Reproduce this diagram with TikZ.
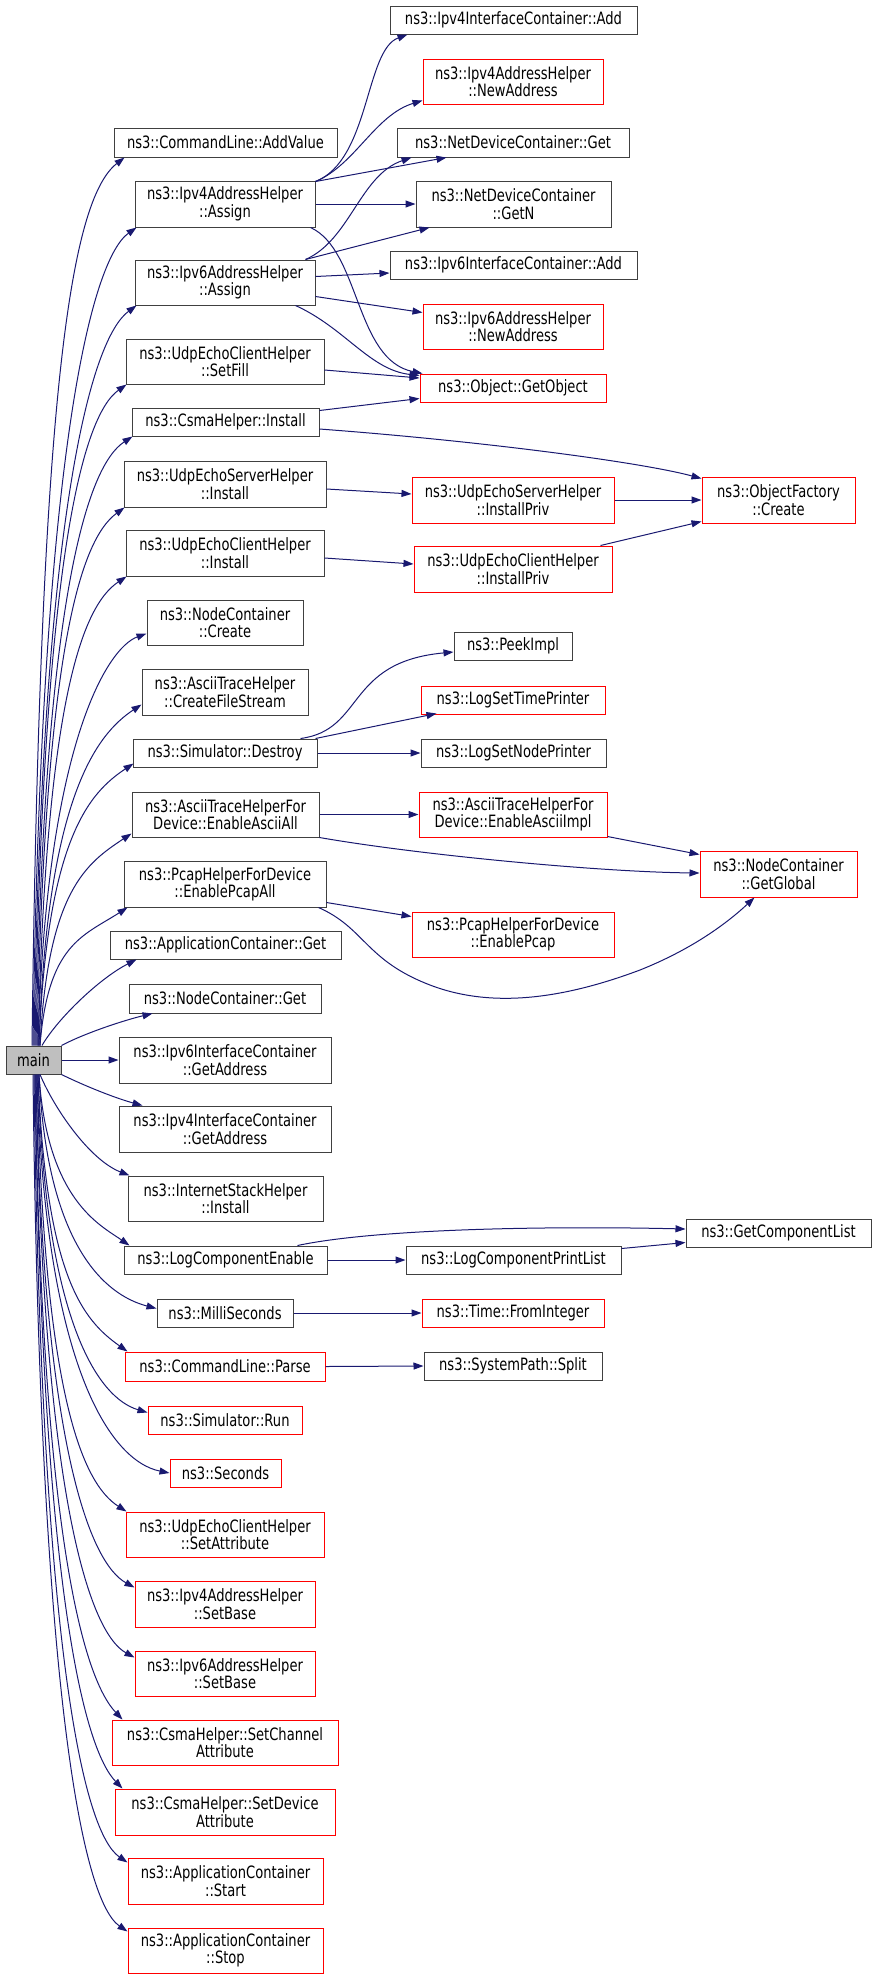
\documentclass[tikz,border=0pt]{standalone}
\usepackage{fontspec}
\setmainfont{DejaVu Sans}[FakeStretch=0.77]
\usetikzlibrary{arrows.meta,calc}
\definecolor{edgec}{HTML}{191970}
\definecolor{bordc}{HTML}{404040}
\definecolor{mainfill}{HTML}{BFBFBF}
\newcommand\mkbox[7]{\node[#6,minimum width=#4pt,minimum height=#5pt] (#1) at (#2,#3) {#7};}
\begin{document}
\begin{tikzpicture}[x=1pt,y=-1pt,
  box/.style={draw=bordc,line width=1pt,inner sep=0pt,align=center,text=black,font=\fontsize{17}{17.4}\selectfont},
  rbox/.style={box,draw=red},
  e/.style={draw=edgec,line width=1pt,-{Triangle[length=10pt,width=7pt]}}]
\useasboundingbox (0,0) rectangle (877,1979);
% column 1
\mkbox{main}{33.5}{1060}{55}{28}{box,fill=mainfill}{main}
\mkbox{av}{225.5}{142.5}{223}{29}{box}{ns3::CommandLine::AddValue}
\mkbox{v4a}{225}{204}{180}{46}{box}{ns3::Ipv4AddressHelper\\::Assign}
\mkbox{v6a}{225}{282.5}{180}{45}{box}{ns3::Ipv6AddressHelper\\::Assign}
\mkbox{setfill}{225}{361.5}{198}{45}{box}{ns3::UdpEchoClientHelper\\::SetFill}
\mkbox{csmainst}{225.5}{422}{187}{28}{box}{ns3::CsmaHelper::Install}
\mkbox{srvinst}{225}{484}{202}{46}{box}{ns3::UdpEchoServerHelper\\::Install}
\mkbox{cliinst}{225}{553}{198}{46}{box}{ns3::UdpEchoClientHelper\\::Install}
\mkbox{nccreate}{225}{622.5}{156}{45}{box}{ns3::NodeContainer\\::Create}
\mkbox{cfs}{225}{692}{166}{46}{box}{ns3::AsciiTraceHelper\\::CreateFileStream}
\mkbox{destroy}{225}{753}{184}{28}{box}{ns3::Simulator::Destroy}
\mkbox{eaa}{225.5}{814.5}{187}{45}{box}{ns3::AsciiTraceHelperFor\\Device::EnableAsciiAll}
\mkbox{epa}{225}{884}{202}{46}{box}{ns3::PcapHelperForDevice\\::EnablePcapAll}
\mkbox{acget}{225.5}{945}{231}{28}{box}{ns3::ApplicationContainer::Get}
\mkbox{ncget}{225}{998.5}{192}{29}{box}{ns3::NodeContainer::Get}
\mkbox{v6ga}{225}{1060}{212}{46}{box}{ns3::Ipv6InterfaceContainer\\::GetAddress}
\mkbox{v4ga}{225}{1129}{212}{46}{box}{ns3::Ipv4InterfaceContainer\\::GetAddress}
\mkbox{ish}{225.5}{1198.5}{195}{45}{box}{ns3::InternetStackHelper\\::Install}
\mkbox{lce}{225.5}{1260}{203}{28}{box}{ns3::LogComponentEnable}
\mkbox{ms}{225}{1313}{136}{28}{box}{ns3::MilliSeconds}
\mkbox{parse}{225}{1366.5}{200}{29}{rbox}{ns3::CommandLine::Parse}
\mkbox{run}{225}{1420}{154}{28}{rbox}{ns3::Simulator::Run}
\mkbox{sec}{225.5}{1473}{111}{28}{rbox}{ns3::Seconds}
\mkbox{setattr}{225}{1534.5}{198}{45}{rbox}{ns3::UdpEchoClientHelper\\::SetAttribute}
\mkbox{v4sb}{225}{1604}{180}{46}{rbox}{ns3::Ipv4AddressHelper\\::SetBase}
\mkbox{v6sb}{225}{1673.5}{180}{45}{rbox}{ns3::Ipv6AddressHelper\\::SetBase}
\mkbox{sca}{225}{1742.5}{226}{45}{rbox}{ns3::CsmaHelper::SetChannel\\Attribute}
\mkbox{sda}{225}{1812}{220}{46}{rbox}{ns3::CsmaHelper::SetDevice\\Attribute}
\mkbox{start}{225.5}{1881}{195}{46}{rbox}{ns3::ApplicationContainer\\::Start}
\mkbox{stop}{225.5}{1950.5}{195}{45}{rbox}{ns3::ApplicationContainer\\::Stop}
% column 2
\mkbox{v4add}{513.5}{20}{247}{28}{box}{ns3::Ipv4InterfaceContainer::Add}
\mkbox{v4new}{513}{81.5}{180}{45}{rbox}{ns3::Ipv4AddressHelper\\::NewAddress}
\mkbox{ndget}{513}{142.5}{232}{29}{box}{ns3::NetDeviceContainer::Get}
\mkbox{ndgetn}{513.5}{204}{195}{46}{box}{ns3::NetDeviceContainer\\::GetN}
\mkbox{v6add}{513.5}{265}{247}{28}{box}{ns3::Ipv6InterfaceContainer::Add}
\mkbox{v6new}{513}{326.5}{180}{45}{rbox}{ns3::Ipv6AddressHelper\\::NewAddress}
\mkbox{getobj}{513}{388}{186}{28}{rbox}{ns3::Object::GetObject}
\mkbox{srvpriv}{513}{500}{202}{46}{rbox}{ns3::UdpEchoServerHelper\\::InstallPriv}
\mkbox{clipriv}{513}{569}{198}{46}{rbox}{ns3::UdpEchoClientHelper\\::InstallPriv}
\mkbox{peek}{513}{646}{118}{28}{box}{ns3::PeekImpl}
\mkbox{lstp}{513}{700}{184}{28}{rbox}{ns3::LogSetTimePrinter}
\mkbox{lsnp}{513.5}{753}{185}{28}{box}{ns3::LogSetNodePrinter}
\mkbox{eai}{513}{814.5}{188}{45}{rbox}{ns3::AsciiTraceHelperFor\\Device::EnableAsciiImpl}
\mkbox{epcap}{513}{934.5}{202}{45}{rbox}{ns3::PcapHelperForDevice\\::EnablePcap}
\mkbox{lcpl}{513.5}{1260}{215}{28}{box}{ns3::LogComponentPrintList}
\mkbox{fromint}{513}{1313}{182}{28}{rbox}{ns3::Time::FromInteger}
\mkbox{split}{513}{1366}{178}{28}{box}{ns3::SystemPath::Split}
% column 3
\mkbox{ofcreate}{778.5}{500}{153}{46}{rbox}{ns3::ObjectFactory\\::Create}
\mkbox{getglobal}{778.5}{874}{157}{46}{rbox}{ns3::NodeContainer\\::GetGlobal}
\mkbox{gcl}{778.5}{1233}{185}{28}{box}{ns3::GetComponentList}
% edges from main, upward
\draw[e] ($(main.north)+(-1.5,0)$) .. controls (40,397) and (70,200) .. ($(av.south west)+(11,0)$);
\draw[e] ($(main.north)+(-0.5,0)$) .. controls (41,447) and (92,259) .. ($(v4a.south west)+(2,0)$);
\draw[e] ($(main.north)+(0.5,0)$) .. controls (42,505) and (92,338) .. ($(v6a.south west)+(2,0)$);
\draw[e] ($(main.north)+(1.5,0)$) .. controls (43,562) and (82,416) .. ($(setfill.south west)+(1,0)$);
\draw[e] ($(main.north)+(2.5,0)$) .. controls (44,598) and (87,466) .. ($(csmainst.south west)+(1,0)$);
\draw[e] ($(main.north)+(3.5,0)$) .. controls (45,651) and (80,540) .. ($(srvinst.south west)+(1,0)$);
\draw[e] ($(main.north)+(4.5,0)$) .. controls (46,701) and (82,606) .. ($(cliinst.south west)+(1,0)$);
\draw[e] ($(main.north)+(4.5,0)$) .. controls (46,745) and (107,648) .. ($(nccreate.south west)+(0,-12)$);
\draw[e] ($(main.north)+(5.5,0)$) .. controls (47,796) and (97,734) .. ($(cfs.south west)+(0,-11)$);
\draw[e] ($(main.north)+(5.5,0)$) .. controls (47,839) and (89,793) .. ($(destroy.south west)+(1,-4)$);
\draw[e] ($(main.north)+(6.5,0)$) .. controls (48,890) and (87,863) .. ($(eaa.south west)+(0,-4)$);
\draw[e] ($(main.north)+(6.5,0)$) .. controls (48,944) and (83,936) .. ($(epa.south west)+(4,0)$);
\draw[e] ($(main.north)+(8.5,0)$) .. controls (58,1018) and (100,978) .. ($(acget.south west)+(27,0)$);
\draw[e] (main.north east) .. controls (85,1033) and (125,1020) .. ($(ncget.south west)+(24,0)$);
% edges from main, side and downward
\draw[e] (main.east) -- (v6ga.west);
\draw[e] (main.south east) .. controls (85,1086) and (115,1098) .. ($(v4ga.north west)+(24,0)$);
\draw[e] ($(main.south)+(6.5,0)$) .. controls (55,1110) and (90,1160) .. ($(ish.north west)+(2,0)$);
\draw[e] ($(main.south)+(5.5,0)$) .. controls (47,1200) and (100,1225) .. ($(lce.north west)+(6,0)$);
\draw[e] ($(main.south)+(5.5,0)$) .. controls (47,1246) and (105,1295) .. ($(ms.north west)+(0,10)$);
\draw[e] ($(main.south)+(4.5,0)$) .. controls (46,1277) and (83,1320) .. ($(parse.north west)+(3,0)$);
\draw[e] ($(main.south)+(4.5,0)$) .. controls (45,1321) and (98,1398) .. ($(run.north west)+(0,7)$);
\draw[e] ($(main.south)+(3.5,0)$) .. controls (45,1365) and (110,1461) .. (sec.west);
\draw[e] ($(main.south)+(3.5,0)$) .. controls (44,1394) and (82,1483) .. ($(setattr.north west)+(1,0)$);
\draw[e] ($(main.south)+(2.5,0)$) .. controls (43,1446) and (90,1563) .. ($(v4sb.north west)+(0,7)$);
\draw[e] ($(main.south)+(2.5,0)$) .. controls (43,1500) and (90,1633) .. ($(v6sb.north west)+(0,7)$);
\draw[e] ($(main.south)+(1.5,0)$) .. controls (42,1546) and (85,1680) .. ($(sca.north west)+(11,0)$);
\draw[e] ($(main.south)+(1.5,0)$) .. controls (42,1597) and (85,1750) .. ($(sda.north west)+(8,0)$);
\draw[e] ($(main.south)+(0.5,0)$) .. controls (41,1649) and (83,1832) .. ($(start.north west)+(0,5)$);
\draw[e] ($(main.south)+(-0.5,0)$) .. controls (40,1700) and (83,1901) .. ($(stop.north west)+(0,4)$);
% other edges
\draw[e] ($(v4a.north east)+(0,1)$) .. controls (370,160) and (365,50) .. ($(v4add.south west)+(18,0)$);
\draw[e] ($(v4a.north east)+(0,1)$) .. controls (355,165) and (375,115) .. ($(v4new.south west)+(0,-4)$);
\draw[e] ($(v4a.north east)+(0,1)$) -- ($(ndget.south west)+(50,0)$);
\draw[e] (v4a.east) -- (ndgetn.west);
\draw[e] ($(v4a.south east)+(-5,0)$) .. controls (360,250) and (355,360) .. ($(getobj.north west)+(3,0)$);
\draw[e] ($(v6a.north east)+(-10,0)$) .. controls (350,240) and (360,175) .. ($(ndget.south west)+(15,0)$);
\draw[e] ($(v6a.north east)+(-10,0)$) -- ($(ndgetn.south west)+(14,0)$);
\draw[e] ($(v6a.north east)+(0,17)$) -- ($(v6add.west)+(0,8)$);
\draw[e] ($(v6a.south east)+(0,-9)$) -- ($(v6new.west)+(0,-14)$);
\draw[e] ($(v6a.south east)+(-20,0)$) .. controls (345,328) and (370,370) .. ($(getobj.north west)+(0,2)$);
\draw[e] ($(setfill.east)+(0,8.5)$) -- ($(getobj.west)+(0,-10)$);
\draw[e] ($(csmainst.north east)+(0,3)$) -- ($(getobj.south west)+(0,-4)$);
\draw[e] ($(csmainst.east)+(0,7)$) .. controls (480,441) and (640,462) .. ($(ofcreate.north west)+(0,2)$);
\draw[e] ($(srvinst.east)+(0,5)$) -- ($(srvpriv.west)+(0,-6)$);
\draw[e] (srvpriv.east) -- (ofcreate.west);
\draw[e] ($(cliinst.east)+(0,5)$) -- ($(clipriv.west)+(0,-5)$);
\draw[e] ($(clipriv.north east)+(-12,0)$) -- ($(ofcreate.south west)+(0,-2)$);
\draw[e] ($(destroy.north east)+(-17,0)$) .. controls (365,730) and (345,662) .. ($(peek.west)+(0,6)$);
\draw[e] ($(destroy.north east)+(-2,0)$) -- ($(lstp.south west)+(16,-1)$);
\draw[e] (destroy.east) -- (lsnp.west);
\draw[e] (eaa.east) -- (eai.west);
\draw[e] (eaa.south east) .. controls (420,855) and (600,872) .. ($(getglobal.west)+(0,-1)$);
\draw[e] ($(eai.south east)+(0,-1)$) -- ($(getglobal.north west)+(0,4)$);
\draw[e] ($(epa.south east)+(0,-5)$) -- ($(epcap.north west)+(0,5)$);
\draw[e] ($(epa.south east)+(-8,0)$) .. controls (365,928) and (365,960) .. (430,985)
   .. controls (490,1008) and (560,1000) .. (640,970)
   .. controls (690,950) and (725,925) .. ($(getglobal.south west)+(55,0)$);
\draw[e] (lce.east) -- (lcpl.west);
\draw[e] ($(lce.north east)+(-30,0)$) .. controls (380,1228) and (560,1226) .. ($(gcl.west)+(0,-4)$);
\draw[e] ($(lcpl.north east)+(0,3)$) -- ($(gcl.south west)+(0,-5)$);
\draw[e] (ms.east) -- (fromint.west);
\draw[e] (parse.east) -- (split.west);
\end{tikzpicture}
\end{document}
